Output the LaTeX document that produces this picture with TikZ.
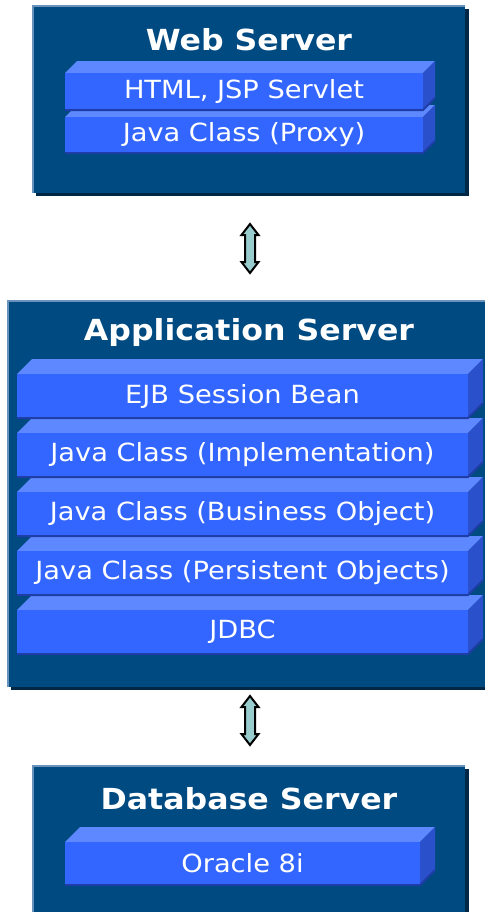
\documentclass[tikz,border=0pt]{standalone}
\usepackage{fontspec}
\setmainfont{DejaVu Sans}[FakeStretch=1.09]
\usetikzlibrary{calc}
\definecolor{serverblue}{HTML}{004A82}
\definecolor{shadowblue}{HTML}{002846}
\definecolor{edgeblue}{HTML}{6993BC}
\definecolor{barfront}{HTML}{3366FF}
\definecolor{bartop}{HTML}{5E88FF}
\definecolor{barside}{HTML}{2A50CC}
\definecolor{barline}{HTML}{1E3DA6}
\definecolor{arrowcyan}{HTML}{99CCCC}
\tikzset{
	servershadow/.style={fill=shadowblue},
	server/.style={fill=serverblue},
	serveredge/.style={draw=edgeblue, line width=1pt},
	title/.style={text=white, font=\bfseries\fontsize{14.5}{18}\selectfont},
	layer/.style={text=white, font=\fontsize{12.5}{15}\selectfont},
	layertop/.style={fill=bartop},
	layerside/.style={fill=barside},
	layerfront/.style={fill=barfront},
	layerline/.style={draw=barline, line width=1pt},
	dblarrow/.style={fill=arrowcyan, draw=black, line width=1pt, line join=miter},
}
% 3D layer bar: (left,top)(right,bottom)(depth){name}{text}
\def\layerbar(#1,#2)(#3,#4)(#5)#6#7{%
	\fill[layertop] (#1,#2) -- ++(#5,-#5) -- (#3+#5,#2-#5) -- (#3,#2) -- cycle;
	\fill[layerside] (#3,#2) -- (#3+#5,#2-#5) -- (#3+#5,#4-#5) -- (#3,#4) -- cycle;
	\fill[layerfront] (#1,#2) rectangle (#3,#4);
	\draw[layerline] (#1,#4) -- (#3,#4) -- (#3+#5,#4-#5);
	\node[layer] (#6) at ({(#1+#3)/2},{(#2+#4)/2}) {#7};}
% double headed arrow between two tips
\def\updown(#1)(#2){\draw[dblarrow] (#1) -- ++(8.5,11) -- ++(-3.5,0) -- ($(#2)+(5,-11)$) -- ++(3.5,0) -- (#2) -- ++(-8.5,-11) -- ++(3.5,0) -- ($(#1)+(-5,11)$) -- ++(-3.5,0) -- cycle;}

\begin{document}
\begin{tikzpicture}[x=0.5pt,y=-0.5pt]
			%%%%% START %%%%%
			\useasboundingbox (0,0) rectangle (484,912);
			
			% web server
			\fill[servershadow] (36,9) rectangle (469,196);
			\fill[server] (33,6) rectangle (465,193);
			\draw[serveredge] (33,193) -- (33,6) -- (465,6);
			\node[title] (webtitle) at (249,40) {Web Server};
			\layerbar(65,117)(423,153)(12){proxy}{Java Class (Proxy)}
			\layerbar(65,73)(423,110)(12){html}{HTML, JSP Servlet}
			
			\coordinate (up1) at (250,224);
			\coordinate (dn1) at (250,273);
			\updown(up1)(dn1)
			
			% application server
			\fill[servershadow] (11,304) rectangle (490,690);
			\fill[server] (8,301) rectangle (488,687);
			\draw[serveredge] (8,687) -- (8,301) -- (488,301);
			\node[title] (apptitle) at (249,332) {Application Server};
			\layerbar(17,610)(468,654)(15){jdbc}{JDBC}
			\layerbar(17,551)(468,595)(15){persist}{Java Class (Persistent Objects)}
			\layerbar(17,492)(468,536)(15){business}{Java Class (Business Object)}
			\layerbar(17,433)(468,477)(15){impl}{Java Class (Implementation)}
			\layerbar(17,374)(468,418)(15){ejb}{EJB Session Bean}
			
			\coordinate (up2) at (250,696);
			\coordinate (dn2) at (250,745);
			\updown(up2)(dn2)
			
			% database server
			\fill[servershadow] (36,769) rectangle (469,914);
			\fill[server] (33,766) rectangle (465,912);
			\draw[serveredge] (33,912) -- (33,766) -- (465,766);
			\node[title] (dbtitle) at (249,799) {Database Server};
			\layerbar(65,842)(420,885)(15){oracle}{Oracle 8i}
			
			%%%%% END %%%%%
\end{tikzpicture}
\end{document}
